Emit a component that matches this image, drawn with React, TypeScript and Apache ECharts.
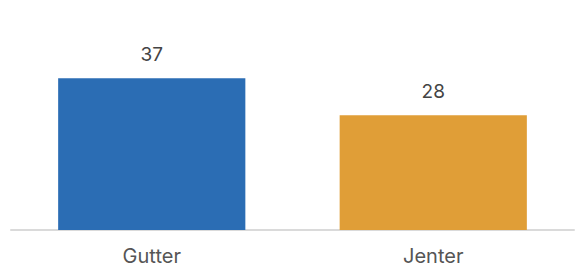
import React, { useEffect, useRef } from "react";
import * as echarts from "echarts";

const categories = ["Gutter", "Jenter"];
const values = [37, 28];
const colors = ["#2b6db4", "#e09e37"];

export default function App() {
  const ref = useRef<HTMLDivElement>(null);
  useEffect(() => {
    const chart = echarts.init(ref.current!, null, { renderer: "svg" });
    chart.setOption({
      animation: false,
      grid: { left: 11, right: 6, top: 66, bottom: 40, containLabel: false },
      xAxis: {
        type: "category",
        data: categories,
        axisLine: { lineStyle: { color: "#dadada", width: 2 } },
        axisTick: { show: false },
        axisLabel: {
          color: "#555555",
          fontSize: 20,
          fontFamily: "Inter",
          margin: 16,
        },
      },
      yAxis: {
        type: "value",
        min: 0,
        max: 40,
        show: false,
        splitLine: { show: false },
      },
      series: [
        {
          type: "bar",
          barWidth: "66.5%",
          data: values.map((v, i) => ({ value: v, itemStyle: { color: colors[i] } })),
          label: {
            show: true,
            position: "top",
            distance: 14,
            color: "#444444",
            fontSize: 19,
            fontFamily: "Inter",
          },
        },
      ],
    });
    return () => chart.dispose();
  }, []);
  return (
    <div style={{ position: "absolute", left: 0, top: 0 }}>
      <div ref={ref} style={{ width: 580, height: 270 }} />
    </div>
  );
}
